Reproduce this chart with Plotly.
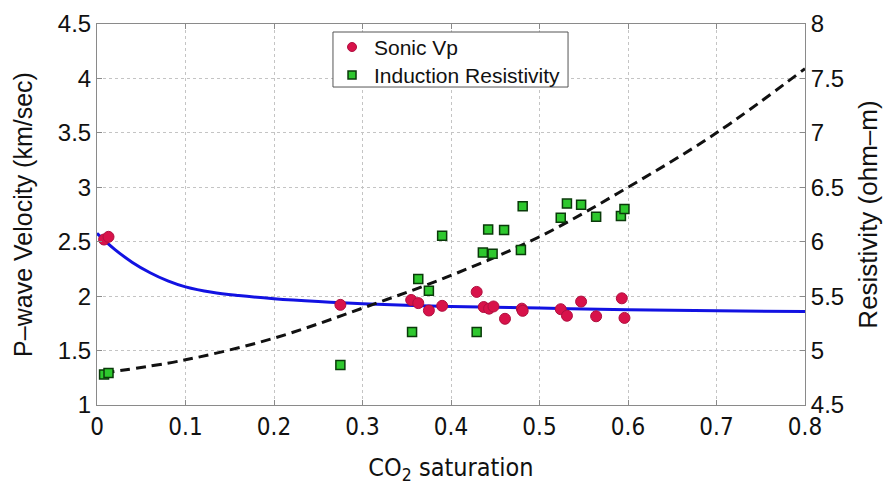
import plotly.graph_objects as go

# Sonic Vp measurements (CO2 saturation, km/sec)
vp_sat = [0.008, 0.013, 0.275, 0.355, 0.363, 0.375, 0.390, 0.429, 0.437, 0.443,
          0.448, 0.461, 0.480, 0.481, 0.524, 0.531, 0.547, 0.564, 0.593, 0.596]
vp_val = [2.52, 2.545, 1.92, 1.965, 1.936, 1.868, 1.911, 2.039, 1.90, 1.885,
          1.905, 1.792, 1.885, 1.865, 1.88, 1.82, 1.95, 1.815, 1.98, 1.80]

# Induction resistivity measurements (CO2 saturation, ohm-m)
res_sat = [0.008, 0.013, 0.275, 0.356, 0.363, 0.375, 0.390, 0.429, 0.436, 0.442,
           0.447, 0.460, 0.479, 0.481, 0.524, 0.531, 0.547, 0.564, 0.592, 0.596]
res_val = [4.78, 4.795, 4.868, 5.17, 5.657, 5.55, 6.055, 5.17, 5.90, 6.113,
           5.89, 6.107, 5.923, 6.326, 6.22, 6.35, 6.34, 6.23, 6.236, 6.30]

# Model curve for P-wave velocity
vp_model_sat = [0.0, 0.02, 0.04, 0.06, 0.08, 0.1, 0.13, 0.16, 0.2, 0.25, 0.3,
                0.4, 0.5, 0.6, 0.7, 0.8]
vp_model_val = [2.577, 2.43, 2.31, 2.215, 2.14, 2.085, 2.035, 2.005, 1.976, 1.95, 1.93,
                1.905, 1.89, 1.875, 1.865, 1.858]

# Model curve for resistivity
res_model_sat = [0.008, 0.1, 0.2, 0.3, 0.4, 0.5, 0.6, 0.7, 0.8]
res_model_val = [4.795, 4.915, 5.114, 5.39, 5.69, 6.046, 6.5, 7.0, 7.59]

x_ticks = [0, 0.1, 0.2, 0.3, 0.4, 0.5, 0.6, 0.7, 0.8]
vp_ticks = [1, 1.5, 2, 2.5, 3, 3.5, 4, 4.5]
res_ticks = [4.5, 5, 5.5, 6, 6.5, 7, 7.5, 8]

legend_names = ["Sonic Vp", "Induction Resistivity"]

FONT = "Liberation Sans, Arial, sans-serif"
NARROW = "Liberation Sans Narrow, DejaVu Sans Condensed, Liberation Sans, sans-serif"
AXIS_COLOR = "#8a8a8a"
GRID_COLOR = "#c4c4c4"
VP_COLOR = "#d8124a"
VP_EDGE = "#b01040"
RES_COLOR = "#2ec82e"
RES_EDGE = "#0a3a0a"

fig = go.Figure()

fig.add_trace(go.Scatter(
    x=vp_model_sat, y=vp_model_val, mode="lines",
    line=dict(color="#1212e2", width=3, shape="spline"),
    showlegend=False, yaxis="y",
))
fig.add_trace(go.Scatter(
    x=res_model_sat, y=res_model_val, mode="lines",
    line=dict(color="#111111", width=3, dash="10px,6px", shape="spline"),
    showlegend=False, yaxis="y2",
))
fig.add_trace(go.Scatter(
    x=vp_sat, y=vp_val, mode="markers", name=legend_names[0],
    marker=dict(symbol="circle", size=11, color=VP_COLOR,
                line=dict(color=VP_EDGE, width=1)),
    showlegend=False, yaxis="y",
))
fig.add_trace(go.Scatter(
    x=res_sat, y=res_val, mode="markers", name=legend_names[1],
    marker=dict(symbol="square", size=9, color=RES_COLOR,
                line=dict(color=RES_EDGE, width=1.5)),
    showlegend=False, yaxis="y2",
))

# Compact boxed legend in paper coordinates
box_x0, box_x1, box_y0, box_y1 = 0.3333, 0.6653, 0.8346, 0.979
sym_x, text_x = 0.3602, 0.3884
row_y = [0.9396, 0.8661]
fig.add_shape(type="rect", xref="paper", yref="paper",
              x0=box_x0, x1=box_x1, y0=box_y0, y1=box_y1,
              line=dict(color="#555555", width=1), fillcolor="white", layer="above")
fig.add_shape(type="circle", xref="paper", yref="paper",
              xsizemode="pixel", ysizemode="pixel", xanchor=sym_x, yanchor=row_y[0],
              x0=-4.5, x1=4.5, y0=-4.5, y1=4.5,
              line=dict(color=VP_EDGE, width=1), fillcolor=VP_COLOR, layer="above")
fig.add_shape(type="rect", xref="paper", yref="paper",
              xsizemode="pixel", ysizemode="pixel", xanchor=sym_x, yanchor=row_y[1],
              x0=-4, x1=4, y0=-4, y1=4,
              line=dict(color=RES_EDGE, width=1.5), fillcolor=RES_COLOR, layer="above")
for name, yy in zip(legend_names, row_y):
    fig.add_annotation(x=text_x, y=yy, xref="paper", yref="paper",
                       xanchor="left", yanchor="middle", showarrow=False,
                       text=name, font=dict(size=21, color="#111111"))

fig.update_layout(
    width=883, height=486,
    margin=dict(l=97, r=78, t=24, b=81),
    paper_bgcolor="white", plot_bgcolor="white",
    font=dict(family=FONT, size=20, color="#111111"),
    showlegend=False,
    xaxis=dict(
        range=[0, 0.8], tickvals=x_ticks, ticktext=[f"{v:g}" for v in x_ticks],
        tickfont=dict(family=NARROW, size=24),
        showgrid=True, gridcolor=GRID_COLOR, griddash="dot", gridwidth=1,
        showline=True, linecolor=AXIS_COLOR, linewidth=1, mirror="ticks",
        ticks="inside", ticklen=5, tickcolor=AXIS_COLOR,
        zeroline=False, automargin=False,
        title=dict(text="CO<sub>2</sub> saturation",
                   font=dict(family=NARROW, size=25), standoff=18),
    ),
    yaxis=dict(
        range=[1, 4.5], tickvals=vp_ticks, ticktext=[f"{v:g}" for v in vp_ticks],
        tickfont=dict(size=24),
        showgrid=True, gridcolor=GRID_COLOR, griddash="dot", gridwidth=1,
        showline=True, linecolor=AXIS_COLOR, linewidth=1,
        ticks="inside", ticklen=5, tickcolor=AXIS_COLOR,
        zeroline=False, automargin=False,
        title=dict(text="P\u2013wave Velocity (km/sec)", font=dict(size=25), standoff=18),
    ),
    yaxis2=dict(
        range=[4.5, 8], tickvals=res_ticks, ticktext=[f"{v:g}" for v in res_ticks],
        tickfont=dict(size=24),
        overlaying="y", side="right", showgrid=False,
        showline=True, linecolor=AXIS_COLOR, linewidth=1,
        ticks="inside", ticklen=5, tickcolor=AXIS_COLOR,
        zeroline=False, automargin=False,
        title=dict(text="Resistivity (ohm\u2013m)", font=dict(size=26), standoff=22),
    ),
)

fig.write_html("out.html")
